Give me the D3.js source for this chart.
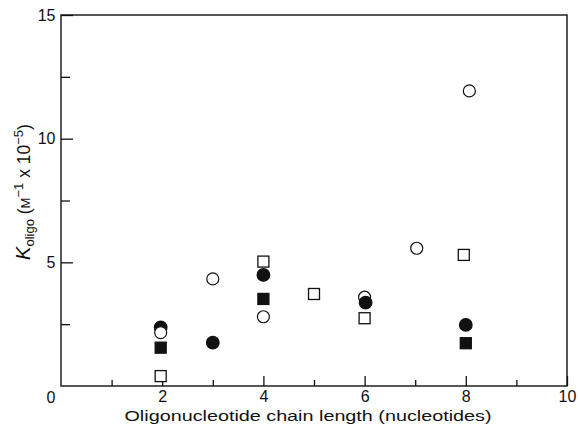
<!DOCTYPE html>
<html><head><meta charset="utf-8">
<script src="https://cdn.jsdelivr.net/npm/d3@7"></script>
<style>body{margin:0;background:#fff}svg{display:block}text{font-family:"Liberation Sans",Arial,sans-serif;fill:#111}</style>
</head><body>
<script>
const xTicksMajor = [2, 4, 6, 8, 10];
const xTicksMinor = [1, 3, 5, 7, 9];
const yTicksMajor = [5, 10, 15];
const yTicksMinor = [2.5, 7.5, 12.5];

const openCircleX = [1.97, 3, 4, 6, 7.03, 8.07];
const openCircleY = [2.16, 4.33, 2.80, 3.59, 5.57, 11.93];
const filledCircleX = [1.97, 3, 4, 6.02, 8.0];
const filledCircleY = [2.37, 1.75, 4.49, 3.37, 2.47];
const openSquareX = [1.97, 4, 5, 6, 7.96];
const openSquareY = [0.40, 5.03, 3.72, 2.74, 5.30];
const filledSquareX = [1.97, 4, 8.0];
const filledSquareY = [1.55, 3.52, 1.73];

const W = 578, H = 430;
const svg = d3.select("body").append("svg").attr("width", W).attr("height", H);
const x = d3.scaleLinear().domain([0, 10]).range([61, 567]);
const y = d3.scaleLinear().domain([0, 15]).range([386, 15]);

const ink = "#111";
// frame
svg.append("rect").attr("x", x(0)).attr("y", y(15)).attr("width", x(10) - x(0)).attr("height", y(0) - y(15))
  .attr("fill", "none").attr("stroke", ink).attr("stroke-width", 1.4);

// x axis ticks (inward)
const xAxisMaj = d3.axisBottom(x).tickValues(xTicksMajor).tickSizeInner(-10).tickSizeOuter(0).tickPadding(5);
const gx = svg.append("g").attr("transform", `translate(0,${y(0)})`).call(xAxisMaj);
gx.select(".domain").remove();
gx.selectAll("line").attr("stroke", ink).attr("stroke-width", 1.3);
gx.selectAll("text").attr("font-size", 16);
const xAxisMin = d3.axisBottom(x).tickValues(xTicksMinor).tickSizeInner(-6).tickSizeOuter(0).tickFormat("");
const gx2 = svg.append("g").attr("transform", `translate(0,${y(0)})`).call(xAxisMin);
gx2.select(".domain").remove();
gx2.selectAll("line").attr("stroke", ink).attr("stroke-width", 1.3);

// y axis ticks (inward)
const yAxisMaj = d3.axisLeft(y).tickValues(yTicksMajor).tickSizeInner(-12).tickSizeOuter(0).tickPadding(5.5);
const gy = svg.append("g").attr("transform", `translate(${x(0)},0)`).call(yAxisMaj);
gy.select(".domain").remove();
gy.selectAll("line").attr("stroke", ink).attr("stroke-width", 1.3);
gy.selectAll("text").attr("font-size", 16);
const yAxisMin = d3.axisLeft(y).tickValues(yTicksMinor).tickSizeInner(-9).tickSizeOuter(0).tickFormat("");
const gy2 = svg.append("g").attr("transform", `translate(${x(0)},0)`).call(yAxisMin);
gy2.select(".domain").remove();
gy2.selectAll("line").attr("stroke", ink).attr("stroke-width", 1.3);

// origin label
svg.append("text").attr("x", 51).attr("y", 403).attr("text-anchor", "middle")
  .attr("font-size", 16).text("0");

// x title
svg.append("text").attr("x", 308).attr("y", 421).attr("text-anchor", "middle")
  .attr("font-size", 15.5).attr("textLength", 367).attr("lengthAdjust", "spacingAndGlyphs")
  .text("Oligonucleotide chain length (nucleotides)");

// y title
const yt = svg.append("text").attr("transform", "translate(30,192) rotate(-90)").attr("text-anchor", "middle").attr("font-size", 17.5);
yt.append("tspan").attr("font-style", "italic").attr("font-size", 20).text("K");
yt.append("tspan").attr("font-size", 13).attr("dy", 4).text("oligo");
yt.append("tspan").attr("dy", -4).text(" (");
yt.append("tspan").attr("font-size", 13).text("M");
yt.append("tspan").attr("font-size", 13).attr("dy", -7).text("−1");
yt.append("tspan").attr("dy", 7).text(" x 10");
yt.append("tspan").attr("font-size", 13).attr("dy", -7).text("−5");
yt.append("tspan").attr("dy", 7).text(")");

// markers
const circles = [];
openCircleX.forEach((v, i) => circles.push({x: v, y: openCircleY[i], filled: false}));
filledCircleX.forEach((v, i) => circles.push({x: v, y: filledCircleY[i], filled: true}));
circles.sort((a, b) => b.y - a.y);

const squares = [];
openSquareX.forEach((v, i) => squares.push({x: v, y: openSquareY[i], filled: false}));
filledSquareX.forEach((v, i) => squares.push({x: v, y: filledSquareY[i], filled: true}));

const s = 11;
svg.append("g").selectAll("rect").data(squares).join("rect")
  .attr("x", d => x(d.x) - s / 2).attr("y", d => y(d.y) - s / 2)
  .attr("width", s).attr("height", s)
  .attr("fill", d => d.filled ? ink : "#fff").attr("stroke", ink).attr("stroke-width", 1.3);

svg.append("g").selectAll("circle").data(circles).join("circle")
  .attr("cx", d => x(d.x)).attr("cy", d => y(d.y))
  .attr("r", d => d.filled ? 6.3 : 6)
  .attr("fill", d => d.filled ? ink : "#fff").attr("stroke", ink).attr("stroke-width", 1.2);
</script>
</body></html>
